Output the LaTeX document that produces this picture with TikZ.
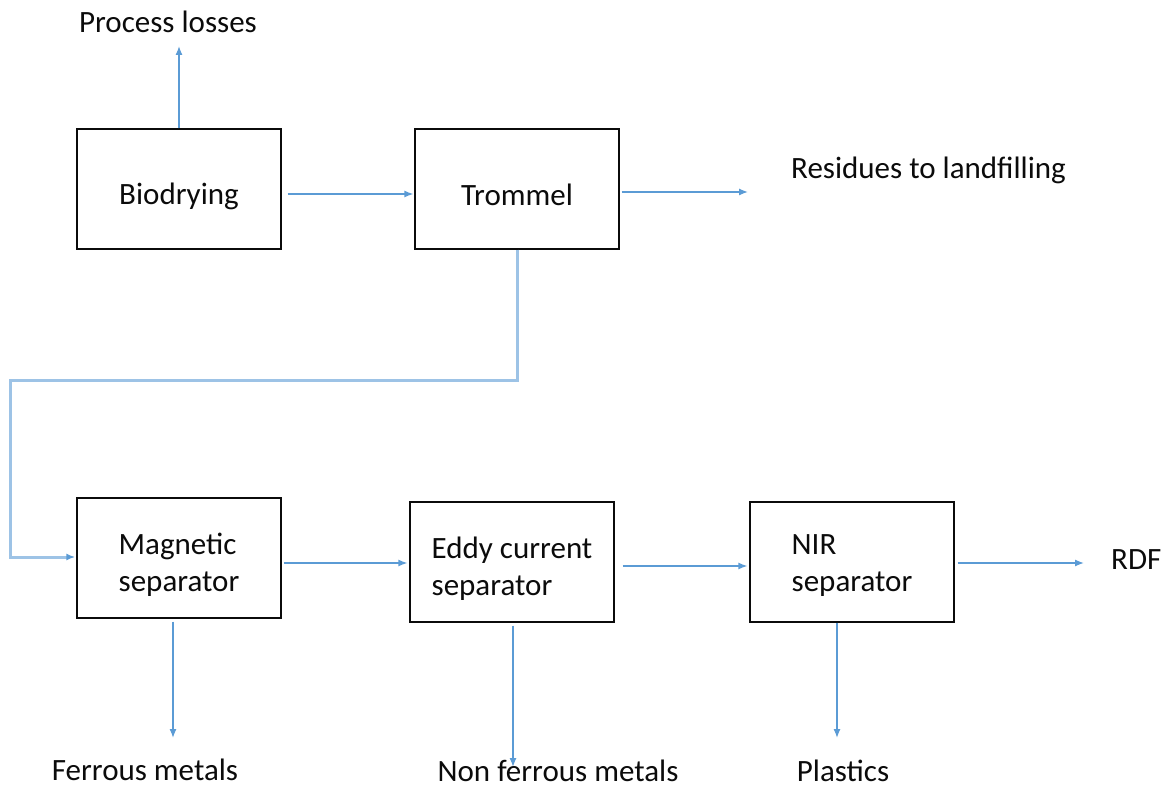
\documentclass[tikz,border=0pt]{standalone}
\usepackage{fontspec}
\setmainfont{Carlito}
\usetikzlibrary{arrows.meta}
\definecolor{ink}{HTML}{0B0B0B}
\definecolor{flowblue}{HTML}{5B9BD5}
\definecolor{feedblue}{HTML}{9DC3E6}

\begin{document}
\begin{tikzpicture}[
  x=1pt, y=-1pt,
  font=\fontsize{31}{37}\selectfont,
  >={Latex[length=9pt,width=7pt]},
  unit/.style={draw=ink, line width=1.3pt, minimum width=204pt, minimum height=120pt,
    inner sep=0pt},
  unittext/.style={text=ink, align=left, inner sep=0pt, yshift=-7pt},
  stream/.style={text=ink, inner sep=0pt},
  flow/.style={->, draw=flowblue, line width=1.3pt},
  feed/.style={-{Latex[length=9pt,width=7pt,color=flowblue]}, draw=feedblue, line width=3pt}
]
\useasboundingbox (0,0) rectangle (1168,791);

\node[unit, label={[unittext]center:Biodrying}] (biodry) at (179,189) {};
\node[unit, label={[unittext, yshift=1pt]center:Trommel}] (trommel) at (517,189) {};
\node[unit, label={[unittext]center:{Magnetic\\separator}}] (magsep) at (179,558) {};
\node[unit, label={[unittext]center:{Eddy current\\separator}}] (eddysep) at (512,562) {};
\node[unit, label={[unittext, yshift=3.5pt]center:{NIR\\separator}}] (nirsep) at (852,562) {};

\node[stream] (losses) at (168,22) {Process losses};
\node[stream, anchor=west] (residues) at (791,170) {Residues to landfilling};
\node[stream, anchor=west] (rdf) at (1111,560) {RDF};
\node[stream] (ferrous) at (145,770) {Ferrous metals};
\node[stream] (nonferrous) at (558,771) {Non ferrous metals};
\node[stream] (plastics) at (843,771) {Plastics};

\coordinate (lossend) at (179,46);
\coordinate (resend) at (748,192);
\coordinate (feedbend) at (10,381);
\coordinate (rdfend) at (1084,563);
\coordinate (ferrend) at (173,738);
\coordinate (nfend) at (513,767);
\coordinate (plasend) at (837,738);

\draw[flow] (biodry.north) -- (lossend);
\draw[flow, shorten <=6pt, shorten >=1pt] ([yshift=-5pt]biodry.east) -- ([yshift=-5pt]trommel.west);
\draw[flow, shorten <=2pt] ([yshift=-3pt]trommel.east) -- (resend);
\draw[feed, shorten >=1pt] (trommel.south) |- (feedbend) |- ([yshift=1pt]magsep.west);
\draw[flow, shorten <=2pt, shorten >=2pt] ([yshift=-5pt]magsep.east) -- ([yshift=-1pt]eddysep.west);
\draw[flow, shorten <=8pt, shorten >=2pt] ([yshift=-4pt]eddysep.east) -- ([yshift=-4pt]nirsep.west);
\draw[flow, shorten <=3pt] ([yshift=-1pt]nirsep.east) -- (rdfend);
\draw[flow, shorten <=3pt] ([xshift=-6pt]magsep.south) -- (ferrend);
\draw[flow, shorten <=3pt] ([xshift=1pt]eddysep.south) -- (nfend);
\draw[flow] ([xshift=-15pt]nirsep.south) -- (plasend);
\end{tikzpicture}
\end{document}
